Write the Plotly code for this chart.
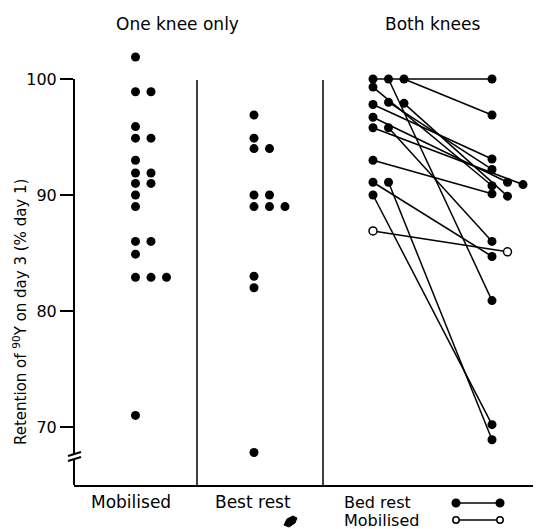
import plotly.graph_objects as go

# ---------------- data ----------------
one_knee_mobilised = [101.9, 98.9, 98.9, 95.9, 94.9, 94.9, 93.0, 91.9, 91.9, 91.0,
                      91.0, 90.0, 89.0, 86.0, 86.0, 84.9, 82.9, 82.9, 82.9, 71.0]
one_knee_bedrest = [96.9, 94.9, 94.0, 94.0, 90.0, 90.0, 89.0, 89.0, 89.0, 83.0, 82.0, 67.8]

both_bedrest_first = [100.0, 100.0, 100.0, 99.3, 97.8, 98.0, 93.0, 97.9, 96.7, 95.8, 95.8, 91.1, 91.1, 90.0]
both_bedrest_second = [100.0, 80.9, 96.9, 90.8, 93.1, 92.2, 90.1, 89.9, 91.1, 90.9, 86.0, 84.7, 68.9, 70.2]
both_mobilised_first = [86.9]
both_mobilised_second = [85.1]

y_ticks = [70, 80, 90, 100]
group_titles = ["One knee only", "Both knees"]
column_labels = ["Mobilised", "Best rest"]
legend_labels = ["Bed rest", "Mobilised"]
y_title = "Retention of <sup>90</sup>Y on day 3 (% day 1)"

# ---------------- layout constants (page pixels) ----------------
PAGE_OFF = 8                      # default body margin of the html page
W, H = 541 - PAGE_OFF, 529 - PAGE_OFF
AX_L, AX_B, AX_T, AX_R = 74, 485, 40, 541     # plot box in page pixels
ML, MT = AX_L - PAGE_OFF, AX_T - PAGE_OFF
MR, MB = PAGE_OFF + W - AX_R, PAGE_OFF + H - AX_B
PX_PER_UNIT = 11.6
Y_MIN = 65.0
Y_MAX = Y_MIN + (AX_B - AX_T) / PX_PER_UNIT
FONT = "DejaVu Sans"
STEP = 15.5
COL_MOB, COL_BED, COL_B1, COL_B2 = 135.5, 254, 373, 492
DIVIDERS = [197, 323]


def px_x(x):
    return (x - AX_L) / (AX_R - AX_L)


def px_y(y):
    return (AX_B - y) / (AX_B - AX_T)


def place(values, center, placed, thr=0.6):
    """Shift overlapping points sideways into slots (simple dot-plot stacking)."""
    xs = []
    for v in values:
        k = 0
        while any(s == k and abs(v - pv) < thr for s, pv in placed):
            k += 1
        placed.append((k, v))
        xs.append(center + k * STEP)
    return xs


x_mob = place(one_knee_mobilised, COL_MOB, [])
x_bed = place(one_knee_bedrest, COL_BED, [])
pl1, pl2 = [], []
x_b1 = place(both_bedrest_first, COL_B1, pl1)
x_m1 = place(both_mobilised_first, COL_B1, pl1)
x_b2 = place(both_bedrest_second, COL_B2, pl2)
x_m2 = place(both_mobilised_second, COL_B2, pl2)

fig = go.Figure()

# connecting lines
lx, ly = [], []
for a, b, va, vb in zip(x_b1 + x_m1, x_b2 + x_m2,
                        both_bedrest_first + both_mobilised_first,
                        both_bedrest_second + both_mobilised_second):
    lx += [a, b, None]
    ly += [va, vb, None]
fig.add_trace(go.Scatter(x=lx, y=ly, mode="lines", line=dict(color="black", width=1.5),
                         hoverinfo="skip", showlegend=False))

filled = dict(size=9, color="black")
fig.add_trace(go.Scatter(x=x_mob, y=one_knee_mobilised, mode="markers", marker=filled,
                         showlegend=False, cliponaxis=False))
fig.add_trace(go.Scatter(x=x_bed, y=one_knee_bedrest, mode="markers", marker=filled,
                         showlegend=False, cliponaxis=False))
fig.add_trace(go.Scatter(x=x_b1 + x_b2, y=both_bedrest_first + both_bedrest_second,
                         mode="markers", marker=filled, showlegend=False, cliponaxis=False))
fig.add_trace(go.Scatter(x=x_m1 + x_m2, y=both_mobilised_first + both_mobilised_second,
                         mode="markers",
                         marker=dict(size=8, color="white", line=dict(color="black", width=1.5)),
                         showlegend=False, cliponaxis=False))

shapes = []
# y axis line with a break
shapes.append(dict(type="line", xref="paper", yref="paper", x0=0, x1=0,
                   y0=px_y(79), y1=px_y(454), line=dict(color="black", width=2)))
shapes.append(dict(type="line", xref="paper", yref="paper", x0=0, x1=0,
                   y0=px_y(460), y1=0, line=dict(color="black", width=2)))
for dy in (0, 5):
    shapes.append(dict(type="line", xref="paper", yref="paper",
                       x0=px_x(68), x1=px_x(81), y0=px_y(456 + dy), y1=px_y(452 + dy),
                       line=dict(color="black", width=2)))
# dividers
for dx in DIVIDERS:
    shapes.append(dict(type="line", xref="paper", yref="paper", x0=px_x(dx), x1=px_x(dx),
                       y0=px_y(80), y1=0, line=dict(color="black", width=1.5)))
# legend glyphs
for ly_, fillc in ((503, "black"), (520, "white")):
    shapes.append(dict(type="line", xref="paper", yref="paper", x0=px_x(456), x1=px_x(500),
                       y0=px_y(ly_), y1=px_y(ly_), line=dict(color="black", width=1.5)))
    r = 3.8 if fillc == "black" else 3.2
    for cx in (456, 500):
        shapes.append(dict(type="circle", xref="paper", yref="paper",
                           x0=px_x(cx - r), x1=px_x(cx + r), y0=px_y(ly_ + r), y1=px_y(ly_ - r),
                           fillcolor=fillc, line=dict(color="black", width=1.5)))
# ink blot below "Best rest"
blot = [(284, 525), (287, 519), (293, 516), (297, 518), (295, 523), (289, 527)]
path = "M " + " L ".join(f"{px_x(x):.5f},{px_y(y):.5f}" for x, y in blot) + " Z"
shapes.append(dict(type="path", xref="paper", yref="paper", path=path,
                   fillcolor="black", line=dict(color="black", width=1)))

annotations = []
for txt, x in zip(group_titles, (177, 432)):
    annotations.append(dict(text=txt, x=px_x(x), y=px_y(24), xref="paper", yref="paper",
                            showarrow=False, font=dict(size=17, family=FONT, color="black"),
                            xanchor="center", yanchor="middle"))
for txt, x in zip(column_labels, (131, 253)):
    annotations.append(dict(text=txt, x=px_x(x), y=px_y(502), xref="paper", yref="paper",
                            showarrow=False, font=dict(size=17, family=FONT, color="black"),
                            xanchor="center", yanchor="middle"))
for txt, y in zip(legend_labels, (502, 520)):
    annotations.append(dict(text=txt, x=px_x(342), y=px_y(y), xref="paper", yref="paper",
                            showarrow=False, font=dict(size=16, family=FONT, color="black"),
                            xanchor="left", yanchor="middle", height=17))
annotations.append(dict(text=y_title, x=px_x(20), y=px_y(312), xref="paper", yref="paper",
                        showarrow=False, textangle=-90,
                        font=dict(size=15, family=FONT, color="black"),
                        xanchor="center", yanchor="middle"))

fig.update_layout(
    width=W, height=H,
    margin=dict(l=ML, r=MR, t=MT, b=MB, pad=0),
    paper_bgcolor="white", plot_bgcolor="white",
    font=dict(family=FONT, color="black"),
    shapes=shapes, annotations=annotations, showlegend=False,
    xaxis=dict(range=[AX_L, AX_R], showgrid=False, zeroline=False, showticklabels=False,
               ticks="", showline=True, linecolor="black", linewidth=2, fixedrange=True),
    yaxis=dict(range=[Y_MIN, Y_MAX], tickvals=y_ticks, ticktext=[str(t) for t in y_ticks],
               ticks="outside", ticklen=13, tickwidth=2, tickcolor="black",
               showgrid=False, zeroline=False, showline=False,
               tickfont=dict(size=16, family=FONT, color="black"), fixedrange=True),
)

fig.write_html("out.html")
